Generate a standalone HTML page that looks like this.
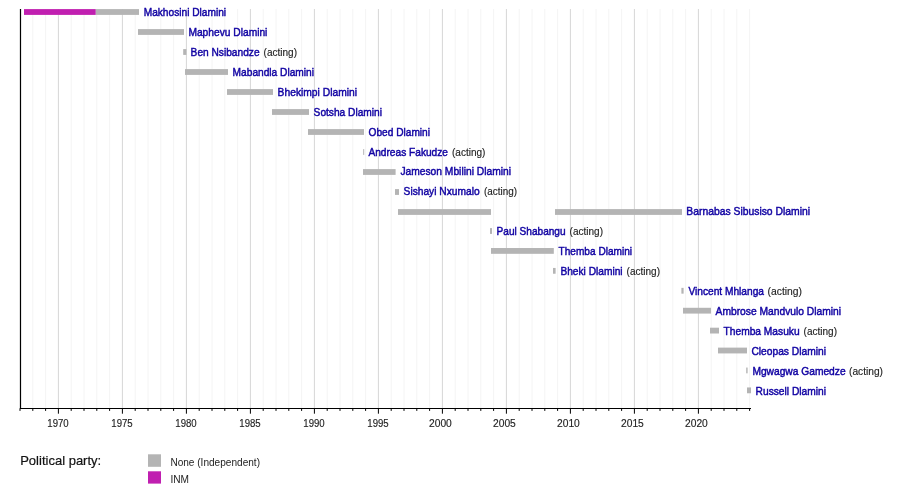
<!DOCTYPE html><html><head><meta charset="utf-8"><title>Timeline</title><style>html,body{margin:0;padding:0;background:#fff}svg{display:block}text{font-family:"Liberation Sans",sans-serif;paint-order:stroke}</style></head><body>
<svg width="900" height="487" viewBox="0 0 900 487">
<rect width="900" height="487" fill="#fff"/>
<line x1="20.00" y1="9" x2="20.00" y2="408.5" stroke="#f4f4f4" stroke-width="1"/>
<line x1="32.80" y1="9" x2="32.80" y2="408.5" stroke="#f4f4f4" stroke-width="1"/>
<line x1="45.60" y1="9" x2="45.60" y2="408.5" stroke="#f4f4f4" stroke-width="1"/>
<line x1="58.40" y1="9" x2="58.40" y2="408.5" stroke="#d6d6d6" stroke-width="1"/>
<line x1="71.20" y1="9" x2="71.20" y2="408.5" stroke="#f4f4f4" stroke-width="1"/>
<line x1="84.00" y1="9" x2="84.00" y2="408.5" stroke="#f4f4f4" stroke-width="1"/>
<line x1="96.80" y1="9" x2="96.80" y2="408.5" stroke="#f4f4f4" stroke-width="1"/>
<line x1="109.60" y1="9" x2="109.60" y2="408.5" stroke="#f4f4f4" stroke-width="1"/>
<line x1="122.40" y1="9" x2="122.40" y2="408.5" stroke="#d6d6d6" stroke-width="1"/>
<line x1="135.20" y1="9" x2="135.20" y2="408.5" stroke="#f4f4f4" stroke-width="1"/>
<line x1="148.00" y1="9" x2="148.00" y2="408.5" stroke="#f4f4f4" stroke-width="1"/>
<line x1="160.80" y1="9" x2="160.80" y2="408.5" stroke="#f4f4f4" stroke-width="1"/>
<line x1="173.60" y1="9" x2="173.60" y2="408.5" stroke="#f4f4f4" stroke-width="1"/>
<line x1="186.40" y1="9" x2="186.40" y2="408.5" stroke="#d6d6d6" stroke-width="1"/>
<line x1="199.20" y1="9" x2="199.20" y2="408.5" stroke="#f4f4f4" stroke-width="1"/>
<line x1="212.00" y1="9" x2="212.00" y2="408.5" stroke="#f4f4f4" stroke-width="1"/>
<line x1="224.80" y1="9" x2="224.80" y2="408.5" stroke="#f4f4f4" stroke-width="1"/>
<line x1="237.60" y1="9" x2="237.60" y2="408.5" stroke="#f4f4f4" stroke-width="1"/>
<line x1="250.40" y1="9" x2="250.40" y2="408.5" stroke="#d6d6d6" stroke-width="1"/>
<line x1="263.20" y1="9" x2="263.20" y2="408.5" stroke="#f4f4f4" stroke-width="1"/>
<line x1="276.00" y1="9" x2="276.00" y2="408.5" stroke="#f4f4f4" stroke-width="1"/>
<line x1="288.80" y1="9" x2="288.80" y2="408.5" stroke="#f4f4f4" stroke-width="1"/>
<line x1="301.60" y1="9" x2="301.60" y2="408.5" stroke="#f4f4f4" stroke-width="1"/>
<line x1="314.40" y1="9" x2="314.40" y2="408.5" stroke="#d6d6d6" stroke-width="1"/>
<line x1="327.20" y1="9" x2="327.20" y2="408.5" stroke="#f4f4f4" stroke-width="1"/>
<line x1="340.00" y1="9" x2="340.00" y2="408.5" stroke="#f4f4f4" stroke-width="1"/>
<line x1="352.80" y1="9" x2="352.80" y2="408.5" stroke="#f4f4f4" stroke-width="1"/>
<line x1="365.60" y1="9" x2="365.60" y2="408.5" stroke="#f4f4f4" stroke-width="1"/>
<line x1="378.40" y1="9" x2="378.40" y2="408.5" stroke="#d6d6d6" stroke-width="1"/>
<line x1="391.20" y1="9" x2="391.20" y2="408.5" stroke="#f4f4f4" stroke-width="1"/>
<line x1="404.00" y1="9" x2="404.00" y2="408.5" stroke="#f4f4f4" stroke-width="1"/>
<line x1="416.80" y1="9" x2="416.80" y2="408.5" stroke="#f4f4f4" stroke-width="1"/>
<line x1="429.60" y1="9" x2="429.60" y2="408.5" stroke="#f4f4f4" stroke-width="1"/>
<line x1="442.40" y1="9" x2="442.40" y2="408.5" stroke="#d6d6d6" stroke-width="1"/>
<line x1="455.20" y1="9" x2="455.20" y2="408.5" stroke="#f4f4f4" stroke-width="1"/>
<line x1="468.00" y1="9" x2="468.00" y2="408.5" stroke="#f4f4f4" stroke-width="1"/>
<line x1="480.80" y1="9" x2="480.80" y2="408.5" stroke="#f4f4f4" stroke-width="1"/>
<line x1="493.60" y1="9" x2="493.60" y2="408.5" stroke="#f4f4f4" stroke-width="1"/>
<line x1="506.40" y1="9" x2="506.40" y2="408.5" stroke="#d6d6d6" stroke-width="1"/>
<line x1="519.20" y1="9" x2="519.20" y2="408.5" stroke="#f4f4f4" stroke-width="1"/>
<line x1="532.00" y1="9" x2="532.00" y2="408.5" stroke="#f4f4f4" stroke-width="1"/>
<line x1="544.80" y1="9" x2="544.80" y2="408.5" stroke="#f4f4f4" stroke-width="1"/>
<line x1="557.60" y1="9" x2="557.60" y2="408.5" stroke="#f4f4f4" stroke-width="1"/>
<line x1="570.40" y1="9" x2="570.40" y2="408.5" stroke="#d6d6d6" stroke-width="1"/>
<line x1="583.20" y1="9" x2="583.20" y2="408.5" stroke="#f4f4f4" stroke-width="1"/>
<line x1="596.00" y1="9" x2="596.00" y2="408.5" stroke="#f4f4f4" stroke-width="1"/>
<line x1="608.80" y1="9" x2="608.80" y2="408.5" stroke="#f4f4f4" stroke-width="1"/>
<line x1="621.60" y1="9" x2="621.60" y2="408.5" stroke="#f4f4f4" stroke-width="1"/>
<line x1="634.40" y1="9" x2="634.40" y2="408.5" stroke="#d6d6d6" stroke-width="1"/>
<line x1="647.20" y1="9" x2="647.20" y2="408.5" stroke="#f4f4f4" stroke-width="1"/>
<line x1="660.00" y1="9" x2="660.00" y2="408.5" stroke="#f4f4f4" stroke-width="1"/>
<line x1="672.80" y1="9" x2="672.80" y2="408.5" stroke="#f4f4f4" stroke-width="1"/>
<line x1="685.60" y1="9" x2="685.60" y2="408.5" stroke="#f4f4f4" stroke-width="1"/>
<line x1="698.40" y1="9" x2="698.40" y2="408.5" stroke="#d6d6d6" stroke-width="1"/>
<line x1="711.20" y1="9" x2="711.20" y2="408.5" stroke="#f4f4f4" stroke-width="1"/>
<line x1="724.00" y1="9" x2="724.00" y2="408.5" stroke="#f4f4f4" stroke-width="1"/>
<line x1="736.80" y1="9" x2="736.80" y2="408.5" stroke="#f4f4f4" stroke-width="1"/>
<line x1="749.60" y1="9" x2="749.60" y2="408.5" stroke="#f4f4f4" stroke-width="1"/>
<rect x="24.00" y="9.10" width="71.80" height="5.8" fill="#c01fb0"/>
<rect x="95.80" y="9.10" width="43.20" height="5.8" fill="#b4b4b4"/>
<text x="143.70" y="16.00" font-size="11" fill="#1002a2" stroke="#1002a2" stroke-width="0.45" textLength="82.4" lengthAdjust="spacingAndGlyphs">Makhosini Dlamini</text>
<rect x="138.00" y="29.10" width="46.00" height="5.8" fill="#b4b4b4"/>
<text x="188.40" y="35.93" font-size="11" fill="#1002a2" stroke="#1002a2" stroke-width="0.45" textLength="79.0" lengthAdjust="spacingAndGlyphs">Maphevu Dlamini</text>
<rect x="183.20" y="49.10" width="3.20" height="5.8" fill="#b4b4b4"/>
<text x="190.60" y="55.86" font-size="11" fill="#1002a2" stroke="#1002a2" stroke-width="0.45" textLength="69.0" lengthAdjust="spacingAndGlyphs">Ben Nsibandze</text>
<text x="263.60" y="55.86" font-size="11" fill="#222" stroke="#222" stroke-width="0.15" textLength="33.4" lengthAdjust="spacingAndGlyphs">(acting)</text>
<rect x="185.00" y="69.10" width="43.00" height="5.8" fill="#b4b4b4"/>
<text x="232.60" y="75.79" font-size="11" fill="#1002a2" stroke="#1002a2" stroke-width="0.45" textLength="81.4" lengthAdjust="spacingAndGlyphs">Mabandla Dlamini</text>
<rect x="227.00" y="89.10" width="46.00" height="5.8" fill="#b4b4b4"/>
<text x="277.60" y="95.72" font-size="11" fill="#1002a2" stroke="#1002a2" stroke-width="0.45" textLength="79.4" lengthAdjust="spacingAndGlyphs">Bhekimpi Dlamini</text>
<rect x="272.00" y="109.10" width="37.00" height="5.8" fill="#b4b4b4"/>
<text x="313.60" y="115.65" font-size="11" fill="#1002a2" stroke="#1002a2" stroke-width="0.45" textLength="68.4" lengthAdjust="spacingAndGlyphs">Sotsha Dlamini</text>
<rect x="308.00" y="129.10" width="56.00" height="5.8" fill="#b4b4b4"/>
<text x="368.60" y="135.58" font-size="11" fill="#1002a2" stroke="#1002a2" stroke-width="0.45" textLength="61.4" lengthAdjust="spacingAndGlyphs">Obed Dlamini</text>
<rect x="363.20" y="149.10" width="1.00" height="5.8" fill="#b4b4b4"/>
<text x="368.40" y="155.51" font-size="11" fill="#1002a2" stroke="#1002a2" stroke-width="0.45" textLength="79.6" lengthAdjust="spacingAndGlyphs">Andreas Fakudze</text>
<text x="452.00" y="155.51" font-size="11" fill="#222" stroke="#222" stroke-width="0.15" textLength="33.4" lengthAdjust="spacingAndGlyphs">(acting)</text>
<rect x="363.00" y="169.10" width="32.60" height="5.8" fill="#b4b4b4"/>
<text x="400.40" y="175.44" font-size="11" fill="#1002a2" stroke="#1002a2" stroke-width="0.45" textLength="110.6" lengthAdjust="spacingAndGlyphs">Jameson Mbilini Dlamini</text>
<rect x="395.00" y="189.10" width="4.00" height="5.8" fill="#b4b4b4"/>
<text x="403.60" y="195.37" font-size="11" fill="#1002a2" stroke="#1002a2" stroke-width="0.45" textLength="76.0" lengthAdjust="spacingAndGlyphs">Sishayi Nxumalo</text>
<text x="484.00" y="195.37" font-size="11" fill="#222" stroke="#222" stroke-width="0.15" textLength="33" lengthAdjust="spacingAndGlyphs">(acting)</text>
<rect x="398.00" y="209.10" width="93.00" height="5.8" fill="#b4b4b4"/>
<rect x="555.00" y="209.10" width="127.00" height="5.8" fill="#b4b4b4"/>
<text x="686.30" y="215.30" font-size="11" fill="#1002a2" stroke="#1002a2" stroke-width="0.45" textLength="123.7" lengthAdjust="spacingAndGlyphs">Barnabas Sibusiso Dlamini</text>
<rect x="490.00" y="228.10" width="2.00" height="5.8" fill="#b4b4b4"/>
<text x="496.60" y="235.23" font-size="11" fill="#1002a2" stroke="#1002a2" stroke-width="0.45" textLength="69.0" lengthAdjust="spacingAndGlyphs">Paul Shabangu</text>
<text x="569.60" y="235.23" font-size="11" fill="#222" stroke="#222" stroke-width="0.15" textLength="33.4" lengthAdjust="spacingAndGlyphs">(acting)</text>
<rect x="491.00" y="248.02" width="62.80" height="5.8" fill="#b4b4b4"/>
<text x="558.60" y="255.16" font-size="11" fill="#1002a2" stroke="#1002a2" stroke-width="0.45" textLength="73.4" lengthAdjust="spacingAndGlyphs">Themba Dlamini</text>
<rect x="553.00" y="267.94" width="2.60" height="5.8" fill="#b4b4b4"/>
<text x="560.40" y="275.09" font-size="11" fill="#1002a2" stroke="#1002a2" stroke-width="0.45" textLength="62.2" lengthAdjust="spacingAndGlyphs">Bheki Dlamini</text>
<text x="626.60" y="275.09" font-size="11" fill="#222" stroke="#222" stroke-width="0.15" textLength="33.4" lengthAdjust="spacingAndGlyphs">(acting)</text>
<rect x="681.40" y="287.86" width="2.20" height="5.8" fill="#b4b4b4"/>
<text x="688.40" y="295.02" font-size="11" fill="#1002a2" stroke="#1002a2" stroke-width="0.45" textLength="75.6" lengthAdjust="spacingAndGlyphs">Vincent Mhlanga</text>
<text x="767.60" y="295.02" font-size="11" fill="#222" stroke="#222" stroke-width="0.15" textLength="34.4" lengthAdjust="spacingAndGlyphs">(acting)</text>
<rect x="683.00" y="307.78" width="28.00" height="5.8" fill="#b4b4b4"/>
<text x="715.60" y="314.95" font-size="11" fill="#1002a2" stroke="#1002a2" stroke-width="0.45" textLength="125.4" lengthAdjust="spacingAndGlyphs">Ambrose Mandvulo Dlamini</text>
<rect x="710.00" y="327.70" width="9.00" height="5.8" fill="#b4b4b4"/>
<text x="723.60" y="334.88" font-size="11" fill="#1002a2" stroke="#1002a2" stroke-width="0.45" textLength="76.0" lengthAdjust="spacingAndGlyphs">Themba Masuku</text>
<text x="803.60" y="334.88" font-size="11" fill="#222" stroke="#222" stroke-width="0.15" textLength="33.4" lengthAdjust="spacingAndGlyphs">(acting)</text>
<rect x="718.00" y="347.62" width="29.00" height="5.8" fill="#b4b4b4"/>
<text x="751.40" y="354.81" font-size="11" fill="#1002a2" stroke="#1002a2" stroke-width="0.45" textLength="74.6" lengthAdjust="spacingAndGlyphs">Cleopas Dlamini</text>
<rect x="746.20" y="367.54" width="1.40" height="5.8" fill="#b4b4b4"/>
<text x="752.40" y="374.74" font-size="11" fill="#1002a2" stroke="#1002a2" stroke-width="0.45" textLength="93.2" lengthAdjust="spacingAndGlyphs">Mgwagwa Gamedze</text>
<text x="849.00" y="374.74" font-size="11" fill="#222" stroke="#222" stroke-width="0.15" textLength="34" lengthAdjust="spacingAndGlyphs">(acting)</text>
<rect x="747.00" y="387.46" width="4.00" height="5.8" fill="#b4b4b4"/>
<text x="755.60" y="394.67" font-size="11" fill="#1002a2" stroke="#1002a2" stroke-width="0.45" textLength="70.4" lengthAdjust="spacingAndGlyphs">Russell Dlamini</text>
<line x1="20.5" y1="9" x2="20.5" y2="409.1" stroke="#000" stroke-width="1.2"/>
<line x1="19.9" y1="408.5" x2="751" y2="408.5" stroke="#000" stroke-width="1.2"/>
<line x1="20.00" y1="408.5" x2="20.00" y2="410.9" stroke="#000" stroke-width="1"/>
<line x1="32.80" y1="408.5" x2="32.80" y2="410.9" stroke="#000" stroke-width="1"/>
<line x1="45.60" y1="408.5" x2="45.60" y2="410.9" stroke="#000" stroke-width="1"/>
<line x1="58.40" y1="408.5" x2="58.40" y2="413.7" stroke="#000" stroke-width="1"/>
<text x="47.30" y="427.0" font-size="11" fill="#222" stroke="#222" stroke-width="0.15" textLength="21.4" lengthAdjust="spacingAndGlyphs">1970</text>
<line x1="71.20" y1="408.5" x2="71.20" y2="410.9" stroke="#000" stroke-width="1"/>
<line x1="84.00" y1="408.5" x2="84.00" y2="410.9" stroke="#000" stroke-width="1"/>
<line x1="96.80" y1="408.5" x2="96.80" y2="410.9" stroke="#000" stroke-width="1"/>
<line x1="109.60" y1="408.5" x2="109.60" y2="410.9" stroke="#000" stroke-width="1"/>
<line x1="122.40" y1="408.5" x2="122.40" y2="413.7" stroke="#000" stroke-width="1"/>
<text x="111.30" y="427.0" font-size="11" fill="#222" stroke="#222" stroke-width="0.15" textLength="21.4" lengthAdjust="spacingAndGlyphs">1975</text>
<line x1="135.20" y1="408.5" x2="135.20" y2="410.9" stroke="#000" stroke-width="1"/>
<line x1="148.00" y1="408.5" x2="148.00" y2="410.9" stroke="#000" stroke-width="1"/>
<line x1="160.80" y1="408.5" x2="160.80" y2="410.9" stroke="#000" stroke-width="1"/>
<line x1="173.60" y1="408.5" x2="173.60" y2="410.9" stroke="#000" stroke-width="1"/>
<line x1="186.40" y1="408.5" x2="186.40" y2="413.7" stroke="#000" stroke-width="1"/>
<text x="175.30" y="427.0" font-size="11" fill="#222" stroke="#222" stroke-width="0.15" textLength="21.4" lengthAdjust="spacingAndGlyphs">1980</text>
<line x1="199.20" y1="408.5" x2="199.20" y2="410.9" stroke="#000" stroke-width="1"/>
<line x1="212.00" y1="408.5" x2="212.00" y2="410.9" stroke="#000" stroke-width="1"/>
<line x1="224.80" y1="408.5" x2="224.80" y2="410.9" stroke="#000" stroke-width="1"/>
<line x1="237.60" y1="408.5" x2="237.60" y2="410.9" stroke="#000" stroke-width="1"/>
<line x1="250.40" y1="408.5" x2="250.40" y2="413.7" stroke="#000" stroke-width="1"/>
<text x="239.30" y="427.0" font-size="11" fill="#222" stroke="#222" stroke-width="0.15" textLength="21.4" lengthAdjust="spacingAndGlyphs">1985</text>
<line x1="263.20" y1="408.5" x2="263.20" y2="410.9" stroke="#000" stroke-width="1"/>
<line x1="276.00" y1="408.5" x2="276.00" y2="410.9" stroke="#000" stroke-width="1"/>
<line x1="288.80" y1="408.5" x2="288.80" y2="410.9" stroke="#000" stroke-width="1"/>
<line x1="301.60" y1="408.5" x2="301.60" y2="410.9" stroke="#000" stroke-width="1"/>
<line x1="314.40" y1="408.5" x2="314.40" y2="413.7" stroke="#000" stroke-width="1"/>
<text x="303.30" y="427.0" font-size="11" fill="#222" stroke="#222" stroke-width="0.15" textLength="21.4" lengthAdjust="spacingAndGlyphs">1990</text>
<line x1="327.20" y1="408.5" x2="327.20" y2="410.9" stroke="#000" stroke-width="1"/>
<line x1="340.00" y1="408.5" x2="340.00" y2="410.9" stroke="#000" stroke-width="1"/>
<line x1="352.80" y1="408.5" x2="352.80" y2="410.9" stroke="#000" stroke-width="1"/>
<line x1="365.60" y1="408.5" x2="365.60" y2="410.9" stroke="#000" stroke-width="1"/>
<line x1="378.40" y1="408.5" x2="378.40" y2="413.7" stroke="#000" stroke-width="1"/>
<text x="367.30" y="427.0" font-size="11" fill="#222" stroke="#222" stroke-width="0.15" textLength="21.4" lengthAdjust="spacingAndGlyphs">1995</text>
<line x1="391.20" y1="408.5" x2="391.20" y2="410.9" stroke="#000" stroke-width="1"/>
<line x1="404.00" y1="408.5" x2="404.00" y2="410.9" stroke="#000" stroke-width="1"/>
<line x1="416.80" y1="408.5" x2="416.80" y2="410.9" stroke="#000" stroke-width="1"/>
<line x1="429.60" y1="408.5" x2="429.60" y2="410.9" stroke="#000" stroke-width="1"/>
<line x1="442.40" y1="408.5" x2="442.40" y2="413.7" stroke="#000" stroke-width="1"/>
<text x="429.00" y="427.0" font-size="11" fill="#222" stroke="#222" stroke-width="0.15" textLength="22.8" lengthAdjust="spacingAndGlyphs">2000</text>
<line x1="455.20" y1="408.5" x2="455.20" y2="410.9" stroke="#000" stroke-width="1"/>
<line x1="468.00" y1="408.5" x2="468.00" y2="410.9" stroke="#000" stroke-width="1"/>
<line x1="480.80" y1="408.5" x2="480.80" y2="410.9" stroke="#000" stroke-width="1"/>
<line x1="493.60" y1="408.5" x2="493.60" y2="410.9" stroke="#000" stroke-width="1"/>
<line x1="506.40" y1="408.5" x2="506.40" y2="413.7" stroke="#000" stroke-width="1"/>
<text x="493.00" y="427.0" font-size="11" fill="#222" stroke="#222" stroke-width="0.15" textLength="22.8" lengthAdjust="spacingAndGlyphs">2005</text>
<line x1="519.20" y1="408.5" x2="519.20" y2="410.9" stroke="#000" stroke-width="1"/>
<line x1="532.00" y1="408.5" x2="532.00" y2="410.9" stroke="#000" stroke-width="1"/>
<line x1="544.80" y1="408.5" x2="544.80" y2="410.9" stroke="#000" stroke-width="1"/>
<line x1="557.60" y1="408.5" x2="557.60" y2="410.9" stroke="#000" stroke-width="1"/>
<line x1="570.40" y1="408.5" x2="570.40" y2="413.7" stroke="#000" stroke-width="1"/>
<text x="557.00" y="427.0" font-size="11" fill="#222" stroke="#222" stroke-width="0.15" textLength="22.8" lengthAdjust="spacingAndGlyphs">2010</text>
<line x1="583.20" y1="408.5" x2="583.20" y2="410.9" stroke="#000" stroke-width="1"/>
<line x1="596.00" y1="408.5" x2="596.00" y2="410.9" stroke="#000" stroke-width="1"/>
<line x1="608.80" y1="408.5" x2="608.80" y2="410.9" stroke="#000" stroke-width="1"/>
<line x1="621.60" y1="408.5" x2="621.60" y2="410.9" stroke="#000" stroke-width="1"/>
<line x1="634.40" y1="408.5" x2="634.40" y2="413.7" stroke="#000" stroke-width="1"/>
<text x="621.00" y="427.0" font-size="11" fill="#222" stroke="#222" stroke-width="0.15" textLength="22.8" lengthAdjust="spacingAndGlyphs">2015</text>
<line x1="647.20" y1="408.5" x2="647.20" y2="410.9" stroke="#000" stroke-width="1"/>
<line x1="660.00" y1="408.5" x2="660.00" y2="410.9" stroke="#000" stroke-width="1"/>
<line x1="672.80" y1="408.5" x2="672.80" y2="410.9" stroke="#000" stroke-width="1"/>
<line x1="685.60" y1="408.5" x2="685.60" y2="410.9" stroke="#000" stroke-width="1"/>
<line x1="698.40" y1="408.5" x2="698.40" y2="413.7" stroke="#000" stroke-width="1"/>
<text x="685.00" y="427.0" font-size="11" fill="#222" stroke="#222" stroke-width="0.15" textLength="22.8" lengthAdjust="spacingAndGlyphs">2020</text>
<line x1="711.20" y1="408.5" x2="711.20" y2="410.9" stroke="#000" stroke-width="1"/>
<line x1="724.00" y1="408.5" x2="724.00" y2="410.9" stroke="#000" stroke-width="1"/>
<line x1="736.80" y1="408.5" x2="736.80" y2="410.9" stroke="#000" stroke-width="1"/>
<line x1="749.60" y1="408.5" x2="749.60" y2="410.9" stroke="#000" stroke-width="1"/>
<text x="20.2" y="465" font-size="13" fill="#111" stroke="#111" stroke-width="0.2" textLength="81" lengthAdjust="spacing">Political party:</text>
<rect x="148" y="454.3" width="13" height="12.5" fill="#b4b4b4"/>
<rect x="148" y="471.3" width="13" height="12.3" fill="#c01fb0"/>
<text x="170.4" y="466" font-size="11" fill="#222" textLength="89.6" lengthAdjust="spacingAndGlyphs">None (Independent)</text>
<text x="170.4" y="483.2" font-size="11" fill="#222" textLength="18.6" lengthAdjust="spacingAndGlyphs">INM</text>
</svg></body></html>
